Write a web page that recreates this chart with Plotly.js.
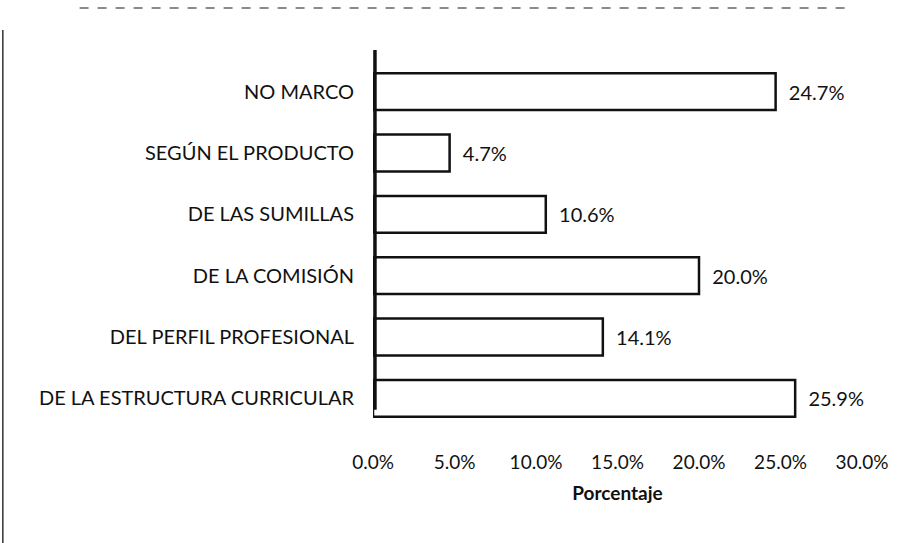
<!DOCTYPE html>
<html>
<head>
<meta charset="utf-8">
<script src="https://cdn.plot.ly/plotly-3.0.1.min.js"></script>
<style>html,body{margin:0;padding:0;background:#fff;}#chart{width:917px;height:543px;}</style>
</head>
<body>
<div id="chart"></div>
<script>
const categories = ["DE LA ESTRUCTURA CURRICULAR","DEL PERFIL PROFESIONAL","DE LA COMISIÓN","DE LAS SUMILLAS","SEGÚN EL PRODUCTO","NO MARCO"];
const values = [25.9, 14.1, 20.0, 10.6, 4.7, 24.7];
const tickVals = [0,5,10,15,20,25,30];
const tickText = ["0.0%","5.0%","10.0%","15.0%","20.0%","25.0%","30.0%"];

const trace = {
  type: "bar",
  orientation: "h",
  y: categories,
  x: values,
  text: values.map(v => "\u00a0\u00a0" + v.toFixed(1) + "%"),
  textposition: "outside",
  cliponaxis: false,
  textfont: {family: "Lato, 'Open Sans', sans-serif", size: 20, color: "#111"},
  marker: {color: "#ffffff", line: {color: "#111111", width: 2.5}},
  hoverinfo: "skip"
};

const layout = {
  width: 917, height: 543,
  margin: {l: 373, r: 55, t: 61, b: 114},
  paper_bgcolor: "#fff", plot_bgcolor: "#fff",
  bargap: 0.4,
  showlegend: false,
  font: {family: "Lato, 'Open Sans', sans-serif", size: 20, color: "#111"},
  xaxis: {
    range: [0, 30], tickvals: tickVals, ticktext: tickText,
    showgrid: false, zeroline: false, showline: false, ticks: "",
    ticklabelstandoff: 20,
    tickfont: {size: 19}, fixedrange: true,
    title: {text: "<b>Porcentaje</b>", font: {size: 19}, standoff: 14}
  },
  yaxis: {
    type: "category", categoryorder: "array", categoryarray: categories,
    showgrid: false, zeroline: false, showline: false,
    ticks: "", ticklabelstandoff: 18, tickfont: {size: 20}, fixedrange: true
  },
  shapes: [
    {type: "line", xref: "paper", yref: "paper", x0: 0.004, x1: 0.004, y0: 1.03, y1: 0.052, line: {color: "#111", width: 3.5}},
    {type: "line", xref: "paper", yref: "paper", x0: -0.6, x1: 0.975, y0: 1.144, y1: 1.144, line: {color: "#666", width: 1.5, dash: "dash"}},
    {type: "line", xref: "paper", yref: "paper", x0: -0.757, x1: -0.757, y0: 1.084, y1: -0.32, line: {color: "#333", width: 1.5}}
  ]
};

Plotly.newPlot("chart", [trace], layout, {displayModeBar: false, staticPlot: true});
</script>
</body>
</html>
